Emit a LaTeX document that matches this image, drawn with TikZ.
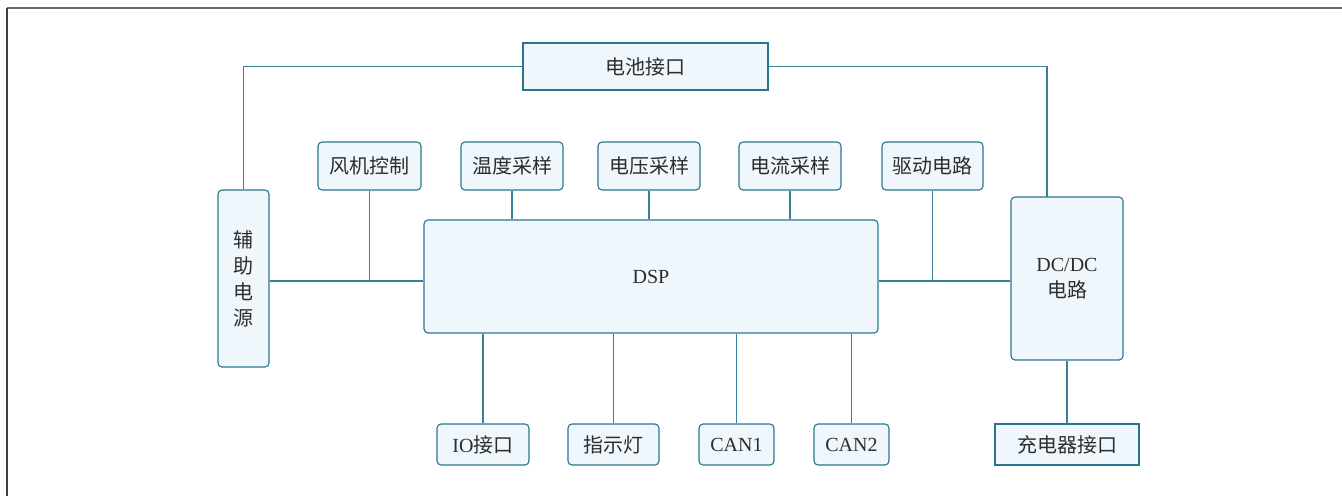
\documentclass[tikz,border=0pt]{standalone}
\usepackage{fontspec}
\setmainfont{Liberation Serif}
\newfontfamily\cjk{Noto Sans CJK SC}
\definecolor{bordc}{RGB}{40,118,142}
\definecolor{linec}{RGB}{58,128,150}
\definecolor{fillc}{RGB}{239,247,253}
\definecolor{txtc}{RGB}{45,45,45}
\tikzset{
  box/.style={draw=bordc, fill=fillc, line width=1.1pt, rounded corners=4pt, inner sep=0pt,
    text=txtc, font=\fontsize{20}{26}\selectfont, align=center},
  sqbox/.style={box, rounded corners=0pt},
  conn/.style={draw=linec, line width=1.2pt},
}
\begin{document}
\begin{tikzpicture}[x=1pt,y=-1pt]
\useasboundingbox (0,0) rectangle (1342,496);
\draw[color=black!60, line width=1.5pt] (7,8) -- (1342,8);
\draw[color=black!75, line width=1.5pt] (7,8) -- (7,496);

\node[sqbox, minimum width=245, minimum height=47] (bat) at (645.5,66.5) {\cjk 电池接口};
\node[box, minimum width=51, minimum height=177] (fuzhu) at (243.5,278.5) {\cjk 辅\\\cjk 助\\\cjk 电\\\cjk 源};
\node[box, minimum width=103, minimum height=48] (fan) at (369.5,166) {\cjk 风机控制};
\node[box, minimum width=102, minimum height=48] (temp) at (512,166) {\cjk 温度采样};
\node[box, minimum width=102, minimum height=48] (volt) at (649,166) {\cjk 电压采样};
\node[box, minimum width=102, minimum height=48] (cur) at (790,166) {\cjk 电流采样};
\node[box, minimum width=101, minimum height=48] (drive) at (932.5,166) {\cjk 驱动电路};
\node[box, minimum width=454, minimum height=113] (dsp) at (651,276.5) {DSP};
\node[box, minimum width=112, minimum height=163] (dcdc) at (1067,278.5) {DC/DC\\\cjk 电路};
\node[sqbox, minimum width=144, minimum height=41] (chg) at (1067,444.5) {\cjk 充电器接口};
\node[box, minimum width=92, minimum height=41] (io) at (483,444.5) {IO{\cjk 接口}};
\node[box, minimum width=91, minimum height=41] (ind) at (613.5,444.5) {\cjk 指示灯};
\node[box, minimum width=75, minimum height=41] (can1) at (736.5,444.5) {CAN1};
\node[box, minimum width=75, minimum height=41] (can2) at (851.5,444.5) {CAN2};

\coordinate (bus) at (0,281);
\coordinate (dctop) at (1047,197);

\draw[conn] (fuzhu.north) |- (bat.west);
\draw[conn] (bat.east) -| (dctop);
\draw[conn] (fuzhu.east |- bus) -- (dsp.west |- bus);
\draw[conn] (fan.south) -- (fan.south |- bus);
\draw[conn] (dsp.east |- bus) -- (dcdc.west |- bus);
\draw[conn] (drive.south) -- (drive.south |- bus);
\draw[conn] (temp.south) -- (temp.south |- dsp.north);
\draw[conn] (volt.south) -- (volt.south |- dsp.north);
\draw[conn] (cur.south) -- (cur.south |- dsp.north);
\draw[conn] (io.north) -- (io.north |- dsp.south);
\draw[conn] (ind.north) -- (ind.north |- dsp.south);
\draw[conn] (can1.north) -- (can1.north |- dsp.south);
\draw[conn] (can2.north) -- (can2.north |- dsp.south);
\draw[conn] (dcdc.south) -- (chg.north);
\end{tikzpicture}
\end{document}
